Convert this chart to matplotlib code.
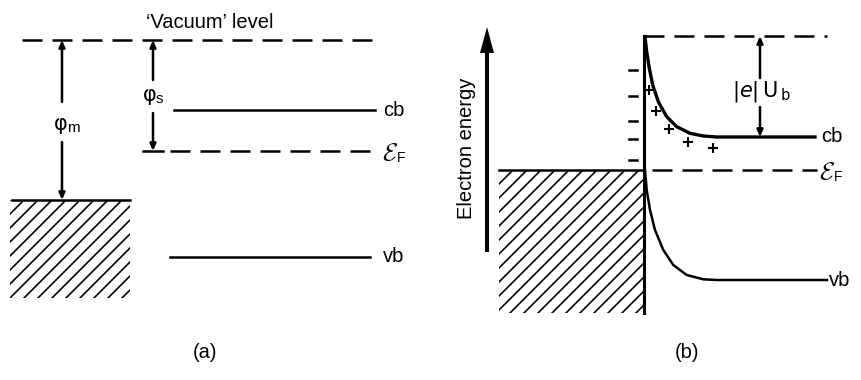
import numpy as np
import matplotlib
matplotlib.use("Agg")
import matplotlib.pyplot as plt
from matplotlib.patches import Rectangle

plt.rcParams["font.family"] = ["Liberation Sans", "DejaVu Sans"]

# ---- panel (a): separated metal and semiconductor (rows, top = high energy)
vac_a = 40
cb_a = 110
ef_a = 151
metal_a = 200
vb_a = 257

# ---- panel (b): contact, band bending
vac_b = 36
ef_b = 170
cb_x = [645, 646.7, 649.3, 652.7, 658.3, 666.7, 676.7, 690, 703.3, 716.7, 815]
cb_y = [37, 51.7, 68.3, 85, 101.7, 116.7, 126.7, 133.3, 136, 137, 137]
vb_x = [645, 646.7, 650, 655, 663.3, 673.3, 686.7, 703.3, 716.7, 827]
vb_y = [170, 190, 210, 230, 250, 265, 275, 279.3, 280, 280]

# surface charge (metal side) and depletion charge (semiconductor side)
minus_y = [70, 96, 121, 139, 160]
plus_x = [649, 656, 669, 688, 713]
plus_y = [90, 111, 129, 142, 148]

LW = 1.8
DASH = (0, (8, 4))
FS = 14.5

fig = plt.figure(figsize=(8.61, 3.80), dpi=100)
ax = fig.add_axes([0, 0, 1, 1])
ax.set_xlim(0, 861)
ax.set_ylim(380, 0)
ax.axis("off")


def hatch_block(x0, x1, y0, y1, step=14):
    rect = Rectangle((x0, y0), x1 - x0, y1 - y0, fill=False, lw=0)
    ax.add_patch(rect)
    h = y1 - y0
    for c in np.arange(x0 - h, x1 + step, step):
        ln, = ax.plot([c, c + h], [y1, y0], color="k", lw=1.2)
        ln.set_clip_path(rect)


def level_arrow(x, top, bottom, gap_top, gap_bottom):
    kw = dict(arrowstyle="-|>,head_length=0.5,head_width=0.22", lw=LW,
              color="k", shrinkA=0, shrinkB=0, mutation_scale=8)
    ax.annotate("", xy=(x, top), xytext=(x, gap_top), arrowprops=kw)
    ax.annotate("", xy=(x, bottom), xytext=(x, gap_bottom), arrowprops=kw)


def phi_label(x, y, sub):
    ax.text(x, y, "\u03c6", fontsize=15, ha="right", va="center",
            family="DejaVu Sans")
    ax.text(x - 1, y + 4, sub, fontsize=11, ha="left", va="center")


def fermi_label(x, y):
    ax.text(x, y + 2, r"$\mathcal{E}$", fontsize=18, va="center",
            math_fontfamily="cm")
    ax.text(x + 15, y + 7, "F", fontsize=10, va="center")


# ================= (a) =================
ax.plot([22, 378], [vac_a, vac_a], "k", lw=LW, ls=DASH)
ax.text(210, 22, "\u2018Vacuum\u2019 level", fontsize=FS, ha="center", va="center")

ax.plot([12, 130], [metal_a, metal_a], "k", lw=LW)
hatch_block(10, 130, metal_a, 298)

level_arrow(62, vac_a, metal_a, 102, 142)
phi_label(68, 124, "m")

level_arrow(153, vac_a, ef_a, 80, 113)
ax.plot([143, 163], [ef_a, ef_a], "k", lw=LW)
phi_label(157, 95, "s")

ax.plot([174, 375], [cb_a, cb_a], "k", lw=LW)
ax.plot([170, 372], [ef_a, ef_a], "k", lw=LW, ls=DASH)
ax.plot([170, 370], [vb_a, vb_a], "k", lw=LW)
ax.text(383, cb_a, "cb", fontsize=FS, va="center")
fermi_label(382, ef_a)
ax.text(383, vb_a, "vb", fontsize=FS, va="center")
ax.text(205, 353, "(a)", fontsize=FS, ha="center", va="center")

# ================= (b) =================
ax.arrow(487, 252, 0, -225, width=4, head_width=14, head_length=26,
         length_includes_head=True, color="k", lw=0)
ax.text(466, 148, "Electron energy", fontsize=FS, rotation=90,
        ha="center", va="center")

ax.plot([499, 644], [ef_b, ef_b], "k", lw=LW)
hatch_block(499, 644, ef_b, 313)
ax.plot([644, 644], [vac_b, 313], "k", lw=2.2)

ax.plot([644, 827], [vac_b, vac_b], "k", lw=LW, ls=DASH)
ax.plot([652, 817], [ef_b, ef_b], "k", lw=LW, ls=DASH)
ax.plot(cb_x, cb_y, "k", lw=2.4, solid_joinstyle="round")
ax.plot(vb_x, vb_y, "k", lw=1.8, solid_joinstyle="round")

for y in minus_y:
    ax.plot([629, 637], [y, y], "k", lw=1.8)
ax.plot(plus_x, plus_y, "k+", ms=7, mew=1.5)

level_arrow(760, vac_b, cb_y[-1], 78, 107)
ax.text(761, 92, r"$|e|\,\mathrm{U}_{\,\mathrm{b}}$", fontsize=15,
        ha="center", va="center")

ax.text(821, cb_y[-1], "cb", fontsize=FS, va="center")
fermi_label(819, ef_b)
ax.text(829, vb_y[-1], "vb", fontsize=FS, va="center")
ax.text(687, 353, "(b)", fontsize=FS, ha="center", va="center")

fig.savefig("out.png", dpi=100)
